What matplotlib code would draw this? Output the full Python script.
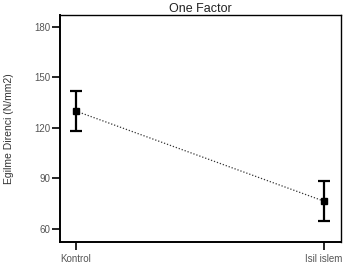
import matplotlib
matplotlib.use("Agg")
import matplotlib.pyplot as plt

categories = ["Kontrol", "Isil islem"]
means = [130.0, 76.5]
errors = [12.0, 12.0]
yticks = [60, 90, 120, 150, 180]

plt.rcParams['font.family'] = ['Liberation Sans', 'DejaVu Sans']

fig = plt.figure(figsize=(3.47, 2.79), dpi=100)
ax = fig.add_axes([0.1729, 0.1326, 0.8098, 0.8136])

x = list(range(len(categories)))
ax.plot(x, means, linestyle=(0, (1, 1.5)), color='#333333', linewidth=0.9)
ax.errorbar(x, means, yerr=errors, fmt='s', color='black', markersize=4.5,
            ecolor='black', elinewidth=1.6, capsize=4.5, capthick=1.6)

ax.set_xlim(-0.064, 1.068)
ax.set_ylim(52.3, 187)
ax.set_yticks(yticks)
ax.set_xticks(x)
ax.set_xticklabels(categories)
ax.tick_params(axis='both', direction='out', length=5.5, width=1.2,
               labelsize=7, labelcolor='#555555')
ax.tick_params(axis='y', pad=1.5)
ax.tick_params(axis='x', pad=3)
for s in ['left', 'bottom']:
    ax.spines[s].set_linewidth(1.4)
for s in ['top', 'right']:
    ax.spines[s].set_linewidth(1.0)
ax.set_ylabel("Egilme Direnci (N/mm2)", fontsize=7.5, color='#333333')
ax.yaxis.set_label_coords(-0.165, 0.5)
ax.set_title("One Factor", fontsize=9, color='#222222', pad=2)

fig.savefig("out.png", dpi=100)
